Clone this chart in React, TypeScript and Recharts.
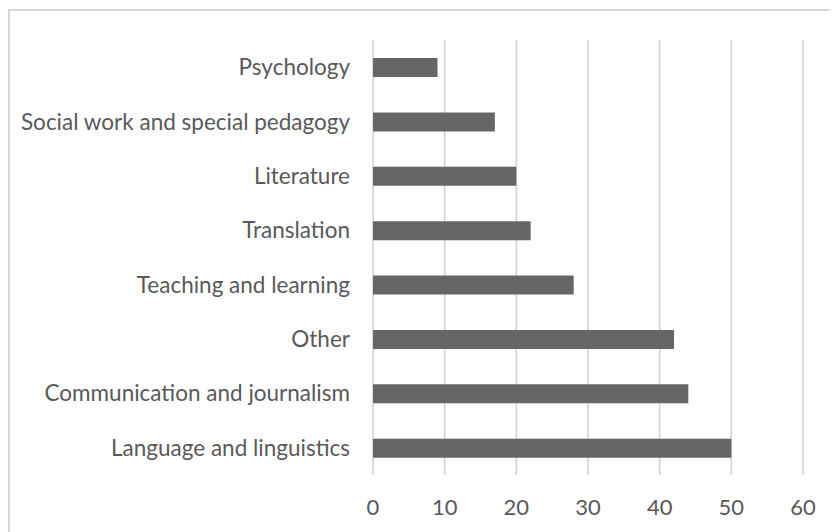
import React from "react";
import { BarChart, Bar, XAxis, YAxis, CartesianGrid } from "recharts";

const categories = [
  "Psychology",
  "Social work and special pedagogy",
  "Literature",
  "Translation",
  "Teaching and learning",
  "Other",
  "Communication and journalism",
  "Language and linguistics",
];
const values = [9, 17, 20, 22, 28, 42, 44, 50];
const xTicks = [0, 10, 20, 30, 40, 50, 60];

const data = categories.map((name, i) => ({ name, value: values[i] }));

const FONT = "Lato, 'Liberation Sans', sans-serif";
const TEXT = "#595959";

export default function App() {
  return (
    <div style={{ position: "relative", width: 830, height: 524, overflow: "hidden", fontFamily: FONT }}>
      <div
        style={{
          position: "absolute",
          left: 0,
          top: 1,
          width: 2000,
          height: 2000,
          borderTop: "2px solid #d9d9d9",
          borderLeft: "2px solid #d9d9d9",
        }}
      />
      <div style={{ position: "absolute", left: 0, top: 0 }}>
        <BarChart
          width={830}
          height={524}
          data={data}
          layout="vertical"
          margin={{ top: 32, right: 35, left: 0, bottom: 0 }}
        >
          <CartesianGrid horizontal={false} stroke="#d0d0d0" strokeWidth={1.5} />
          <XAxis
            type="number"
            domain={[0, 60]}
            ticks={xTicks}
            axisLine={false}
            tickLine={false}
            tickSize={0}
            tickMargin={24}
            height={57}
            interval={0}
            tick={{ fill: TEXT, fontSize: 22, fontFamily: FONT }}
          />
          <YAxis
            type="category"
            dataKey="name"
            width={365}
            axisLine={false}
            tickLine={false}
            tickSize={0}
            tickMargin={23}
            interval={0}
            tick={{ fill: TEXT, fontSize: 22.5, fontFamily: FONT }}
          />
          <Bar dataKey="value" fill="#666666" barSize={19} isAnimationActive={false} />
        </BarChart>
      </div>
    </div>
  );
}
